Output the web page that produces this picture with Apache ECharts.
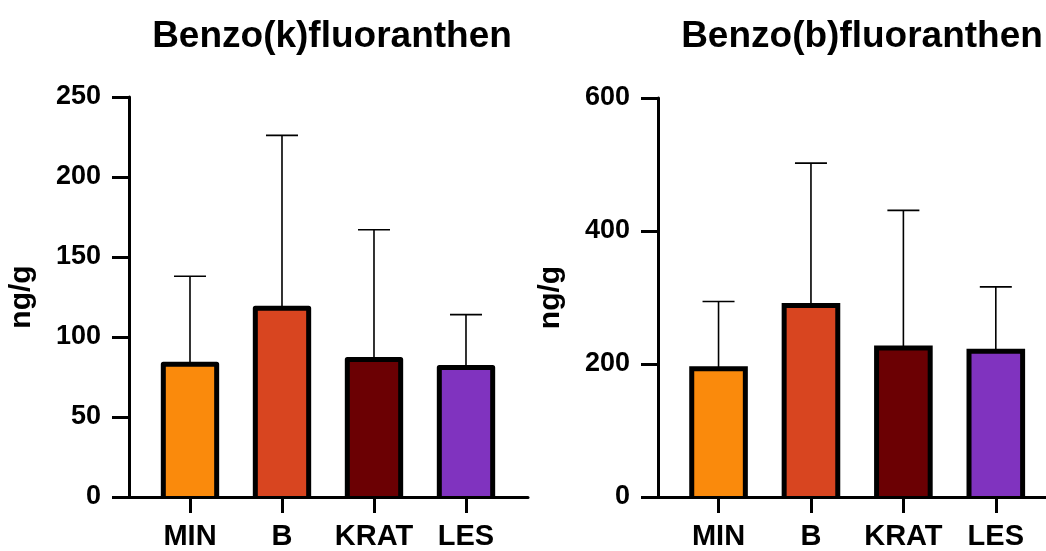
<!DOCTYPE html>
<html>
<head>
<meta charset="utf-8">
<script src="https://cdn.jsdelivr.net/npm/echarts@6/dist/echarts.min.js"></script>
<style>
  html, body { margin: 0; padding: 0; background: #fff; }
  #chart { width: 1046px; height: 551px; }
</style>
</head>
<body>
<div id="chart"></div>
<script>
// Sampling sites (one bar each)
const categories = ['MIN', 'B', 'KRAT', 'LES'];
const barColors = ['#FA8A0C', '#D84520', '#6B0003', '#8033BF'];

// Benzo(k)fluoranthen: mean and standard deviation, ng/g
const bkfMean = [83, 118, 86, 81];
const bkfSd = [55, 108, 81, 33];

// Benzo(b)fluoranthen: mean and standard deviation, ng/g
const bbfMean = [193, 288, 224, 219];
const bbfSd = [101, 214, 207, 97];

const titles = ['Benzo(k)fluoranthen', 'Benzo(b)fluoranthen'];
const yMax = [250, 600];
const yStep = [50, 200];

const FONT = '"Liberation Sans", Arial, Helvetica, sans-serif';
const positions = categories.map((_, i) => i + 1);

function barData(means) {
  return means.map((v, i) => [positions[i], v, i]);
}

function errData(means, sds) {
  return means.map((v, i) => [positions[i], v, v + sds[i]]);
}

// Bar: coloured fill with a thick outline on the left, top and right sides
function makeBarRenderer(join) {
  return function (params, api) {
    const x = api.value(0);
    const top = api.coord([x, api.value(1)]);
    const base = api.coord([x, 0]);
    const half = api.size([1, 0])[0] * 0.29;
    const l = top[0] - half, r = top[0] + half;
    return {
      type: 'group',
      children: [
        { type: 'rect', shape: { x: l, y: top[1], width: r - l, height: base[1] - top[1] },
          style: { fill: barColors[api.value(2)] } },
        { type: 'polyline', shape: { points: [[l, base[1]], [l, top[1]], [r, top[1]], [r, base[1]]] },
          style: { fill: null, stroke: '#000', lineWidth: 5, lineJoin: join } }
      ]
    };
  };
}

function renderErr(params, api) {
  const x = api.value(0);
  const lo = api.coord([x, api.value(1)]);
  const hi = api.coord([x, api.value(2)]);
  const half = 16;
  const style = { stroke: '#000', lineWidth: 1.6 };
  return {
    type: 'group',
    children: [
      { type: 'line', shape: { x1: lo[0], y1: lo[1], x2: hi[0], y2: hi[1] }, style },
      { type: 'line', shape: { x1: hi[0] - half, y1: hi[1], x2: hi[0] + half, y2: hi[1] }, style }
    ]
  };
}

const grids = [
  { left: 129, width: 399, top: 97, height: 400 },
  { left: 658, width: 390, top: 98, height: 400 }
];
const xRange = [[0.337, 4.674], [0.345, 4.543]];

function xAxisFor(i) {
  return {
    type: 'value',
    gridIndex: i,
    min: xRange[i][0],
    max: xRange[i][1],
    z: 5,
    splitLine: { show: false },
    axisLine: { show: true, lineStyle: { color: '#000', width: 3 } },
    axisTick: { show: true, customValues: positions, length: 16, lineStyle: { color: '#000', width: 3 } },
    axisLabel: {
      show: true,
      customValues: positions,
      formatter: v => categories[Math.round(v) - 1] || '',
      margin: 25,
      color: '#000',
      fontFamily: FONT,
      fontWeight: 'bold',
      fontSize: 29
    }
  };
}

function yAxisFor(i) {
  return {
    type: 'value',
    gridIndex: i,
    min: 0,
    max: yMax[i],
    interval: yStep[i],
    name: 'ng/g',
    nameLocation: 'middle',
    nameGap: 92,
    nameTextStyle: { color: '#000', fontFamily: FONT, fontWeight: 'bold', fontSize: 30 },
    splitLine: { show: false },
    axisLine: { show: true, lineStyle: { color: '#000', width: 3 } },
    axisTick: { show: true, length: 17, lineStyle: { color: '#000', width: 3 } },
    axisLabel: { margin: 28, color: '#000', fontFamily: FONT, fontWeight: 'bold', fontSize: 27 }
  };
}

const chart = echarts.init(document.getElementById('chart'), null, { renderer: 'canvas' });
chart.setOption({
  animation: false,
  backgroundColor: '#fff',
  title: [
    { text: titles[0], left: 327, top: 13, textAlign: 'center',
      textStyle: { color: '#000', fontFamily: FONT, fontWeight: 'bold', fontSize: 37 } },
    { text: titles[1], left: 857, top: 13, textAlign: 'center',
      textStyle: { color: '#000', fontFamily: FONT, fontWeight: 'bold', fontSize: 37 } }
  ],
  grid: grids,
  xAxis: [xAxisFor(0), xAxisFor(1)],
  yAxis: [yAxisFor(0), yAxisFor(1)],
  series: [
    { type: 'custom', xAxisIndex: 0, yAxisIndex: 0, renderItem: renderErr, data: errData(bkfMean, bkfSd), z: 1 },
    { type: 'custom', xAxisIndex: 0, yAxisIndex: 0, renderItem: makeBarRenderer('round'), data: barData(bkfMean), z: 3 },
    { type: 'custom', xAxisIndex: 1, yAxisIndex: 1, renderItem: renderErr, data: errData(bbfMean, bbfSd), z: 1 },
    { type: 'custom', xAxisIndex: 1, yAxisIndex: 1, renderItem: makeBarRenderer('miter'), data: barData(bbfMean), z: 3 }
  ]
});
</script>
</body>
</html>
